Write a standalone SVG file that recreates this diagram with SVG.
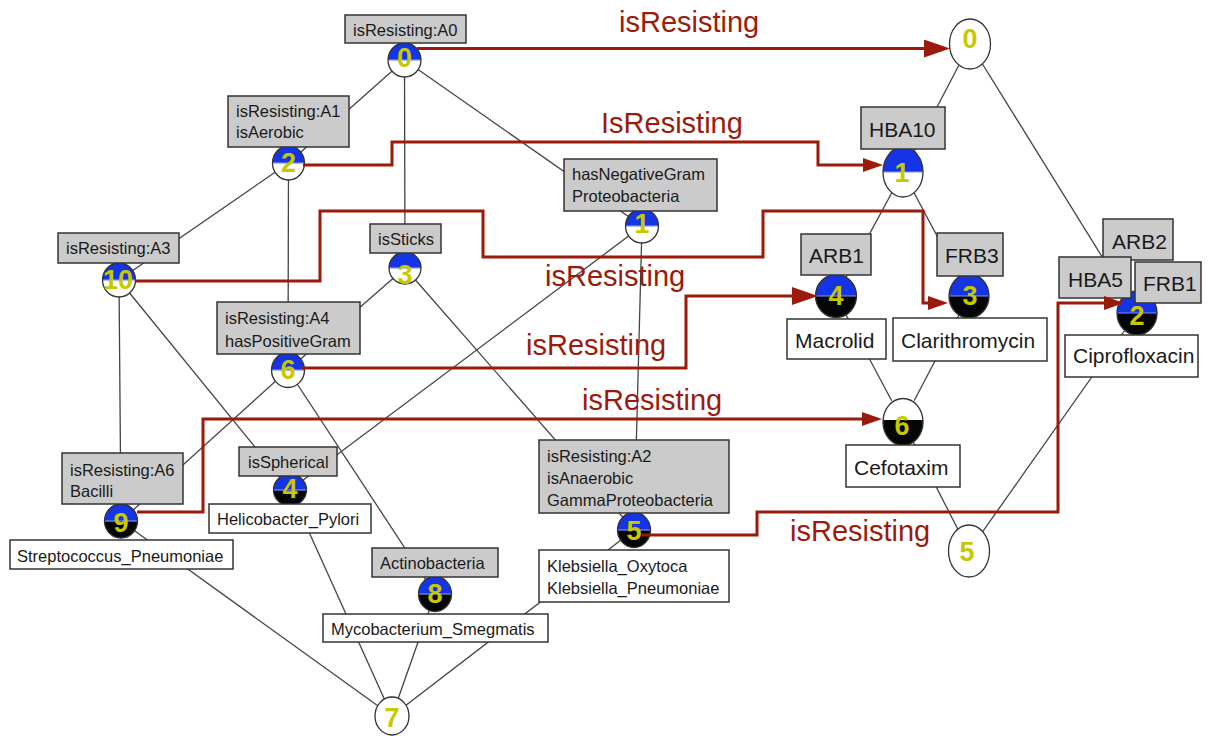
<svg xmlns="http://www.w3.org/2000/svg" width="1208" height="736" viewBox="0 0 1208 736">
<style>
.e{stroke:#444;stroke-width:1.3;fill:none}
.r{stroke:#9a1b0b;stroke-width:3;fill:none;stroke-linejoin:miter}
.ga{fill:#cbcbcb;stroke:#333;stroke-width:1.5}
.wo{fill:#fff;stroke:#333;stroke-width:1.5}
.co{fill:none;stroke:#333;stroke-width:1.3}
.cw{fill:#fff;stroke:#333;stroke-width:1.3}
.bk{fill:#050505}
.wh{fill:#fff}
.bl{fill:#1434e6}
.sp{stroke:#7f93ff;stroke-width:1.2}
.t{font-family:"Liberation Sans",Arial,sans-serif;font-size:16.5px;fill:#1a1a1a}
.tr{font-family:"Liberation Sans",Arial,sans-serif;font-size:21px;fill:#1a1a1a}
.n{font-family:"Liberation Sans",Arial,sans-serif;font-weight:bold;font-size:27px;fill:#c8c800;text-anchor:middle}
.lb{font-family:"Liberation Sans",Arial,sans-serif;font-size:29px;fill:#9a1b0b}
</style>
<defs>
<marker id="al" markerUnits="userSpaceOnUse" markerWidth="26" markerHeight="18" viewBox="0 0 26 18" refX="18" refY="9" orient="auto"><path d="M0,0 L26,9 L0,18 Z" fill="#9a1b0b"/></marker>
<marker id="as" markerUnits="userSpaceOnUse" markerWidth="20" markerHeight="14" viewBox="0 0 20 14" refX="14" refY="7" orient="auto"><path d="M0,0 L20,7 L0,14 Z" fill="#9a1b0b"/></marker>
</defs>
<rect width="1208" height="736" fill="#fff"/>
<g id="edges">
<line class="e" x1="404.5" y1="60" x2="288.5" y2="163"/>
<line class="e" x1="404.5" y1="60" x2="405" y2="268"/>
<line class="e" x1="404.5" y1="60" x2="642" y2="226"/>
<line class="e" x1="288.5" y1="163" x2="119" y2="280"/>
<line class="e" x1="288.5" y1="163" x2="288" y2="370"/>
<line class="e" x1="119" y1="280" x2="121" y2="521"/>
<line class="e" x1="119" y1="280" x2="290" y2="490"/>
<line class="e" x1="405" y1="268" x2="288" y2="370"/>
<line class="e" x1="405" y1="268" x2="634" y2="530"/>
<line class="e" x1="642" y1="226" x2="290" y2="490"/>
<line class="e" x1="642" y1="226" x2="634" y2="530"/>
<line class="e" x1="288" y1="370" x2="121" y2="521"/>
<line class="e" x1="288" y1="370" x2="435" y2="594"/>
<line class="e" x1="121" y1="521" x2="392" y2="716"/>
<line class="e" x1="290" y1="490" x2="392" y2="716"/>
<line class="e" x1="435" y1="594" x2="392" y2="716"/>
<line class="e" x1="634" y1="530" x2="392" y2="716"/>
<line class="e" x1="970" y1="44" x2="903" y2="172"/>
<line class="e" x1="970" y1="44" x2="1137" y2="313"/>
<line class="e" x1="903" y1="172" x2="836" y2="296"/>
<line class="e" x1="903" y1="172" x2="969" y2="296"/>
<line class="e" x1="836" y1="296" x2="903" y2="422"/>
<line class="e" x1="969" y1="296" x2="903" y2="422"/>
<line class="e" x1="903" y1="422" x2="969" y2="551"/>
<line class="e" x1="1137" y1="313" x2="969" y2="551"/>
</g>
<g id="L0">
<ellipse class="wh" cx="404.5" cy="60" rx="16.5" ry="17"/>
<path class="bl" d="M388,60 A16.5,17 0 0 1 421,60 Z"/>
<line class="sp" x1="389" y1="60" x2="420" y2="60"/>
<ellipse class="co" cx="404.5" cy="60" rx="16.5" ry="17"/>
<rect class="ga" x="345" y="15" width="121" height="28"/>
<text class="t" x="353" y="36">isResisting:A0</text>
<text class="n" x="404.5" y="67">0</text>
</g>
<g id="L2">
<ellipse class="wh" cx="288.5" cy="163" rx="16" ry="17"/>
<path class="bl" d="M272.5,163 A16,17 0 0 1 304.5,163 Z"/>
<line class="sp" x1="273" y1="163" x2="304" y2="163"/>
<ellipse class="co" cx="288.5" cy="163" rx="16" ry="17"/>
<rect class="ga" x="228" y="96" width="121" height="51"/>
<text class="t" x="236" y="117">isResisting:A1</text>
<text class="t" x="236" y="138">isAerobic</text>
<text class="n" x="288.5" y="172">2</text>
</g>
<g id="L10">
<ellipse class="wh" cx="119" cy="280" rx="16.5" ry="17"/>
<path class="bl" d="M102.5,280 A16.5,17 0 0 1 135.5,280 Z"/>
<line class="sp" x1="103" y1="280" x2="135" y2="280"/>
<ellipse class="co" cx="119" cy="280" rx="16.5" ry="17"/>
<rect class="ga" x="58" y="233" width="121" height="30"/>
<text class="t" x="66" y="254">isResisting:A3</text>
<text class="n" x="118" y="289">10</text>
</g>
<g id="L3">
<ellipse class="wh" cx="405" cy="268" rx="16" ry="16"/>
<path class="bl" d="M389,268 A16,16 0 0 1 421,268 Z"/>
<line class="sp" x1="389.5" y1="268" x2="420.5" y2="268"/>
<ellipse class="co" cx="405" cy="268" rx="16" ry="16"/>
<rect class="ga" x="370" y="224" width="71" height="29"/>
<text class="t" x="378" y="245">isSticks</text>
<text class="n" x="405" y="284">3</text>
</g>
<g id="L1">
<ellipse class="wh" cx="642" cy="226" rx="16.5" ry="17"/>
<path class="bl" d="M625.5,226 A16.5,17 0 0 1 658.5,226 Z"/>
<line class="sp" x1="626" y1="226" x2="658" y2="226"/>
<ellipse class="co" cx="642" cy="226" rx="16.5" ry="17"/>
<rect class="ga" x="564" y="159" width="153" height="52"/>
<text class="t" x="572" y="180">hasNegativeGram</text>
<text class="t" x="572" y="202">Proteobacteria</text>
<text class="n" x="642" y="233">1</text>
</g>
<g id="L6">
<ellipse class="wh" cx="288" cy="370" rx="16.5" ry="17.5"/>
<path class="bl" d="M271.5,370 A16.5,17.5 0 0 1 304.5,370 Z"/>
<line class="sp" x1="272" y1="370" x2="304" y2="370"/>
<ellipse class="co" cx="288" cy="370" rx="16.5" ry="17.5"/>
<rect class="ga" x="217" y="302" width="143" height="52"/>
<text class="t" x="225" y="324">isResisting:A4</text>
<text class="t" x="225" y="347">hasPositiveGram</text>
<text class="n" x="288" y="379">6</text>
</g>
<g id="L9">
<ellipse class="bk" cx="121" cy="521" rx="16.5" ry="17"/>
<path class="bl" d="M104.5,521 A16.5,17 0 0 1 137.5,521 Z"/>
<line class="sp" x1="105" y1="521" x2="137" y2="521"/>
<ellipse class="co" cx="121" cy="521" rx="16.5" ry="17"/>
<rect class="ga" x="62" y="453" width="121" height="51"/>
<text class="t" x="70" y="476">isResisting:A6</text>
<text class="t" x="70" y="497">Bacilli</text>
<rect class="wo" x="10" y="540" width="223" height="29"/>
<text class="t" x="17" y="562">Streptococcus_Pneumoniae</text>
<text class="n" x="121" y="532">9</text>
</g>
<g id="L4">
<ellipse class="bk" cx="290" cy="490" rx="16.5" ry="16"/>
<path class="bl" d="M273.5,490 A16.5,16 0 0 1 306.5,490 Z"/>
<line class="sp" x1="274" y1="490" x2="306" y2="490"/>
<ellipse class="co" cx="290" cy="490" rx="16.5" ry="16"/>
<rect class="ga" x="239" y="447" width="98" height="29"/>
<text class="t" x="248" y="468">isSpherical</text>
<rect class="wo" x="209" y="504" width="162" height="29"/>
<text class="t" x="217" y="525">Helicobacter_Pylori</text>
<text class="n" x="290" y="498">4</text>
</g>
<g id="L8">
<ellipse class="bk" cx="435" cy="594" rx="16.5" ry="17.5"/>
<path class="bl" d="M418.5,594 A16.5,17.5 0 0 1 451.5,594 Z"/>
<line class="sp" x1="419" y1="594" x2="451" y2="594"/>
<ellipse class="co" cx="435" cy="594" rx="16.5" ry="17.5"/>
<rect class="ga" x="372" y="548" width="126" height="29"/>
<text class="t" x="380" y="569">Actinobacteria</text>
<rect class="wo" x="323" y="614" width="225" height="28"/>
<text class="t" x="331" y="635">Mycobacterium_Smegmatis</text>
<text class="n" x="435" y="603">8</text>
</g>
<g id="L5">
<ellipse class="bk" cx="634" cy="530" rx="16.5" ry="17.5"/>
<path class="bl" d="M617.5,530 A16.5,17.5 0 0 1 650.5,530 Z"/>
<line class="sp" x1="618" y1="530" x2="650" y2="530"/>
<ellipse class="co" cx="634" cy="530" rx="16.5" ry="17.5"/>
<rect class="ga" x="539" y="440" width="190" height="73"/>
<text class="t" x="547" y="462">isResisting:A2</text>
<text class="t" x="547" y="484">isAnaerobic</text>
<text class="t" x="547" y="506">GammaProteobacteria</text>
<rect class="wo" x="539" y="550" width="190" height="52"/>
<text class="t" x="547" y="572">Klebsiella_Oxytoca</text>
<text class="t" x="547" y="594">Klebsiella_Pneumoniae</text>
<text class="n" x="634" y="540">5</text>
</g>
<g id="L7">
<ellipse class="cw" cx="392" cy="716" rx="17" ry="19"/>
<text class="n" x="392" y="727">7</text>
</g>
<g id="R0">
<ellipse class="cw" cx="970" cy="44" rx="20.5" ry="25"/>
<text class="n" x="970" y="48">0</text>
</g>
<g id="R1">
<ellipse class="wh" cx="903" cy="172" rx="20" ry="25"/>
<path class="bl" d="M883,172 A20,25 0 0 1 923,172 Z"/>
<line class="sp" x1="883.5" y1="172" x2="922.5" y2="172"/>
<ellipse class="co" cx="903" cy="172" rx="20" ry="25"/>
<rect class="ga" x="861" y="107" width="84" height="42"/>
<text class="tr" x="869" y="137">HBA10</text>
<text class="n" x="902" y="182">1</text>
</g>
<g id="R4">
<ellipse class="bk" cx="836" cy="296" rx="20.5" ry="21.5"/>
<path class="bl" d="M815.5,296 A20.5,21.5 0 0 1 856.5,296 Z"/>
<line class="sp" x1="816" y1="296" x2="856" y2="296"/>
<ellipse class="co" cx="836" cy="296" rx="20.5" ry="21.5"/>
<rect class="ga" x="801" y="234" width="70" height="41"/>
<text class="tr" x="809" y="263">ARB1</text>
<rect class="wo" x="787" y="319" width="99" height="40"/>
<text class="tr" x="795" y="348">Macrolid</text>
<text class="n" x="836" y="305">4</text>
</g>
<g id="R3">
<ellipse class="bk" cx="969" cy="296" rx="20" ry="22"/>
<path class="bl" d="M949,296 A20,22 0 0 1 989,296 Z"/>
<line class="sp" x1="949.5" y1="296" x2="988.5" y2="296"/>
<ellipse class="co" cx="969" cy="296" rx="20" ry="22"/>
<rect class="ga" x="937" y="233" width="66" height="43"/>
<text class="tr" x="945" y="263">FRB3</text>
<rect class="wo" x="893" y="318" width="154" height="43"/>
<text class="tr" x="901" y="348">Clarithromycin</text>
<text class="n" x="970" y="305">3</text>
</g>
<g id="R2">
<ellipse class="bk" cx="1137" cy="313" rx="20" ry="22"/>
<path class="bl" d="M1117,313 A20,22 0 0 1 1157,313 Z"/>
<line class="sp" x1="1117.5" y1="313" x2="1156.5" y2="313"/>
<ellipse class="co" cx="1137" cy="313" rx="20" ry="22"/>
<rect class="ga" x="1103" y="219" width="70" height="41"/>
<text class="tr" x="1112" y="249">ARB2</text>
<rect class="ga" x="1059" y="257" width="72" height="41"/>
<text class="tr" x="1068" y="287">HBA5</text>
<rect class="ga" x="1135" y="262" width="66" height="41"/>
<text class="tr" x="1143" y="291">FRB1</text>
<rect class="wo" x="1065" y="335" width="133" height="42"/>
<text class="tr" x="1073" y="363">Ciprofloxacin</text>
<text class="n" x="1137" y="325">2</text>
</g>
<g id="R6">
<ellipse class="bk" cx="903" cy="422" rx="20" ry="23.5"/>
<path class="wh" d="M883,420 A20,23.5 0 0 1 923,420 Z"/>
<ellipse class="co" cx="903" cy="422" rx="20" ry="23.5"/>
<rect class="wo" x="846" y="445" width="114" height="42"/>
<text class="tr" x="854" y="475">Cefotaxim</text>
<text class="n" x="902" y="435">6</text>
</g>
<g id="R5">
<ellipse class="cw" cx="969" cy="551" rx="20.5" ry="26"/>
<text class="n" x="967" y="561">5</text>
</g>
<g id="connectors">
<polyline class="r" points="417,48.5 942,48.5" marker-end="url(#al)"/>
<polyline class="r" points="303,165 392,165 392,142 818,142 818,165 877,165" marker-end="url(#as)"/>
<polyline class="r" points="135,281 320,281 320,211 483,211 483,257 763,257 763,211 923,211 923,303 942,303" marker-end="url(#as)"/>
<polyline class="r" points="302,368 686,368 686,296 810,296" marker-end="url(#al)"/>
<polyline class="r" points="137,512 203,512 203,419 876,419" marker-end="url(#as)"/>
<polyline class="r" points="642,535 757,535 757,512 1058,512 1058,303 1118,303" marker-end="url(#as)"/>
<text class="lb" x="619" y="32">isResisting</text>
<text class="lb" x="601" y="133">IsResisting</text>
<text class="lb" x="545" y="286">isResisting</text>
<text class="lb" x="526" y="355">isResisting</text>
<text class="lb" x="582" y="410">isResisting</text>
<text class="lb" x="790" y="541">isResisting</text>
</g>
</svg>
